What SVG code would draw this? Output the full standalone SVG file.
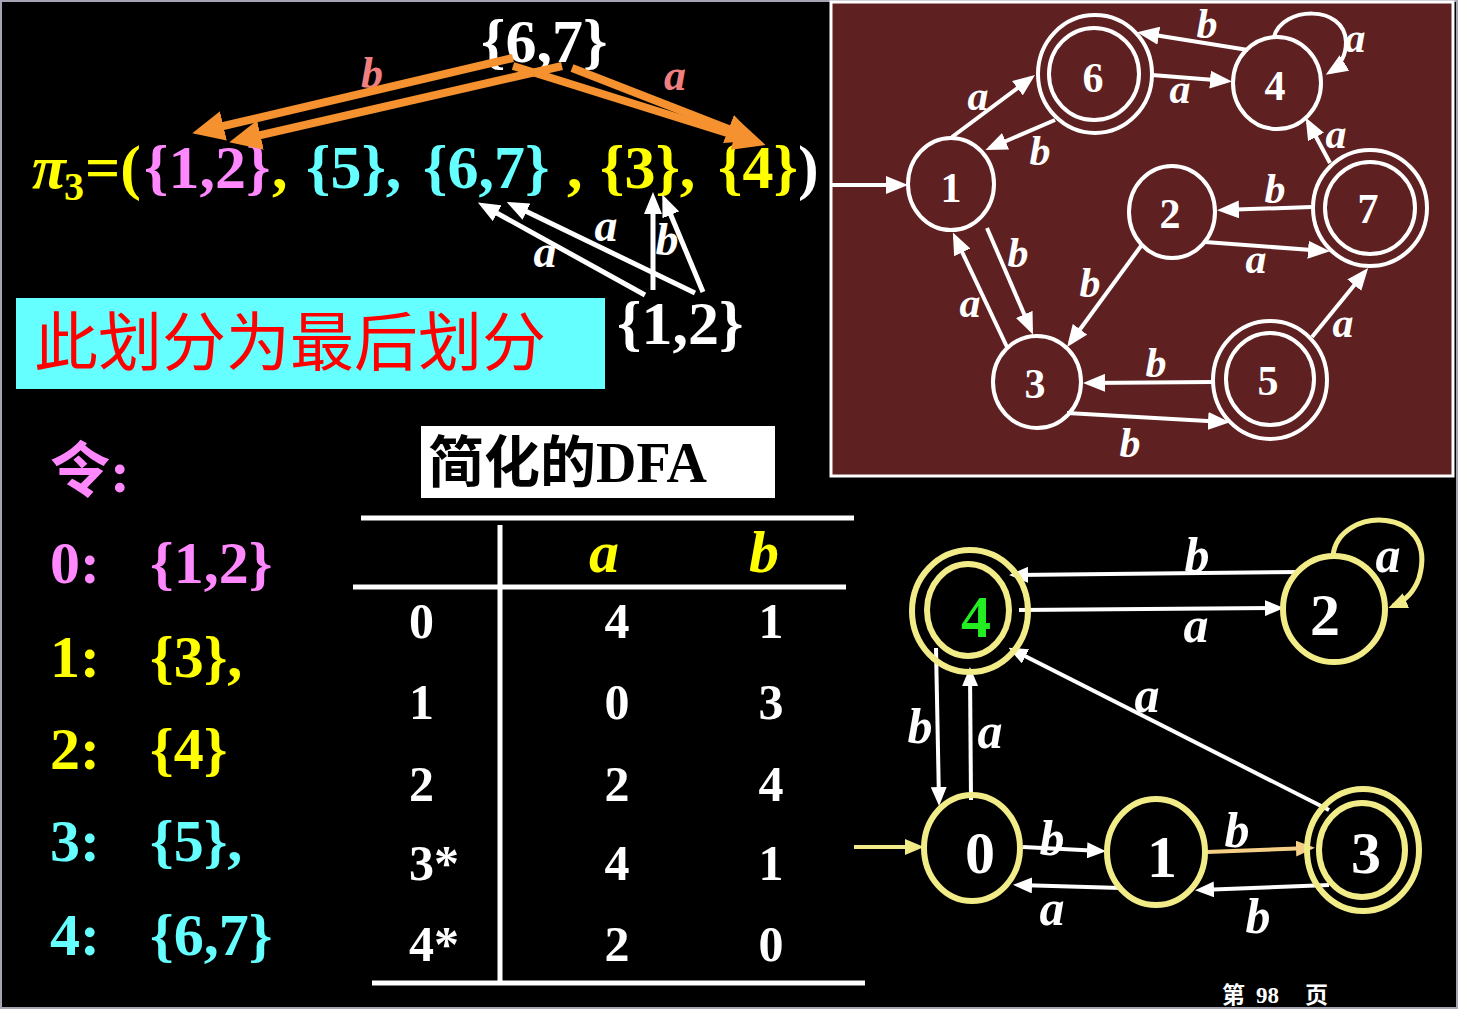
<svg xmlns="http://www.w3.org/2000/svg" width="1458" height="1009" viewBox="0 0 1458 1009">
<style>
.t{font-family:"Liberation Serif","Times New Roman","Noto Sans CJK SC",serif;font-weight:bold}
.cjk{font-family:"Noto Sans CJK SC",sans-serif}
.lb{font-family:"Liberation Serif","Times New Roman",serif;font-weight:bold;font-style:italic;fill:#fff;text-anchor:middle}
.nt{font-family:"Liberation Serif","Times New Roman",serif;font-weight:bold;fill:#fff;text-anchor:middle}
.n1{fill:none;stroke:#fff;stroke-width:4}
.n2{fill:none;stroke:#f2ec88;stroke-width:6}
.e{fill:none;stroke:#fff;stroke-width:4}
.ef{fill:none;stroke:#fff;stroke-width:5}
.eo{fill:none;stroke:#f5922f;stroke-width:8}
.tl{stroke:#fff;stroke-width:5}
</style>
<defs>
<marker id="aw" markerUnits="userSpaceOnUse" markerWidth="22" markerHeight="18" viewBox="0 0 22 18" refX="17" refY="9" orient="auto"><path d="M0,0 L22,9 L0,18 z" fill="#fff"/></marker>
<marker id="aw2" markerUnits="userSpaceOnUse" markerWidth="19" markerHeight="16" viewBox="0 0 19 16" refX="14" refY="8" orient="auto"><path d="M0,0 L19,8 L0,16 z" fill="#fff"/></marker>
<marker id="ay" markerUnits="userSpaceOnUse" markerWidth="19" markerHeight="16" viewBox="0 0 19 16" refX="14" refY="8" orient="auto"><path d="M0,0 L19,8 L0,16 z" fill="#f2ec88"/></marker>
<marker id="at" markerUnits="userSpaceOnUse" markerWidth="19" markerHeight="16" viewBox="0 0 19 16" refX="14" refY="8" orient="auto"><path d="M0,0 L19,8 L0,16 z" fill="#f5cf85"/></marker>
<marker id="ao" markerUnits="userSpaceOnUse" markerWidth="32" markerHeight="30" viewBox="0 0 32 30" refX="22" refY="15" orient="auto"><path d="M0,0 L32,15 L0,30 z" fill="#f5922f"/></marker>
<marker id="af" markerUnits="userSpaceOnUse" markerWidth="22" markerHeight="18" viewBox="0 0 22 18" refX="15" refY="9" orient="auto"><path d="M0,0 L22,9 L0,18 z" fill="#fff"/></marker>
</defs>
<rect x="0" y="0" width="1458" height="1009" fill="#000"/>
<rect x="1" y="1" width="1456" height="1007" fill="none" stroke="#a4a4b4" stroke-width="2"/>

<!-- formula -->
<g id="formula" class="t" font-size="62">
<text x="32" y="188" fill="#ff0" font-style="italic">π</text>
<text x="64" y="200" fill="#ff0" font-size="40">3</text>
<text x="85" y="188" fill="#ff0">=(</text>
<text x="144" y="188" fill="#ff88ff">{1,2}</text>
<text x="272" y="188" fill="#ff0">,</text>
<text x="306" y="188" fill="#66ffff">{5},</text>
<text x="423" y="188" fill="#66ffff">{6,7}</text>
<text x="567" y="188" fill="#ff0">,</text>
<text x="600" y="188" fill="#ff0">{3},</text>
<text x="718" y="188" fill="#ff0">{4}</text>
<text x="798" y="188" fill="#fff">)</text>
<text x="481" y="62" fill="#fff">{6,7}</text>
<text x="617" y="344" fill="#fff">{1,2}</text>
</g>
<g id="formula-labels">
<text class="lb" x="372" y="88" font-size="44" style="fill:#f08080">b</text>
<text class="lb" x="675" y="90" font-size="44" style="fill:#f08080">a</text>
<text class="lb" x="545" y="267" font-size="46">a</text>
<text class="lb" x="606" y="241" font-size="46">a</text>
<text class="lb" x="667" y="255" font-size="46">b</text>
</g>
<g id="formula-connectors">
<path class="eo" d="M513,58 L202,131" marker-end="url(#ao)"/>
<path class="eo" d="M562,66 L239,140" marker-end="url(#ao)"/>
<path class="eo" d="M513,66 L756,142" marker-end="url(#ao)"/>
<path class="eo" d="M572,68 L749,137" marker-end="url(#ao)"/>
<path class="ef" d="M645,295 L484,206" marker-end="url(#af)"/>
<path class="ef" d="M695,293 L513,205" marker-end="url(#af)"/>
<path class="ef" d="M653,290 L653,199" marker-end="url(#af)"/>
<path class="ef" d="M703,292 L665,201" marker-end="url(#af)"/>
</g>

<!-- final partition banner -->
<g id="banner">
<rect x="16" y="298" width="589" height="91" fill="#66ffff"/>
<text class="cjk" x="34" y="365" font-size="64" fill="#ff0000">此划分为最后划分</text>
</g>

<!-- mapping list -->
<g id="mapping" class="t" font-size="60">
<text x="50" y="492" fill="#ff88ff">令:</text>
<text x="50" y="583" fill="#ff88ff">0:</text><text x="150" y="583" fill="#ff88ff">{1,2}</text>
<text x="50" y="677" fill="#ff0">1:</text><text x="150" y="677" fill="#ff0">{3},</text>
<text x="50" y="769" fill="#ff0">2:</text><text x="150" y="769" fill="#ff0">{4}</text>
<text x="50" y="861" fill="#66ffff">3:</text><text x="150" y="861" fill="#66ffff">{5},</text>
<text x="50" y="955" fill="#66ffff">4:</text><text x="150" y="955" fill="#66ffff">{6,7}</text>
</g>

<!-- table -->
<g id="table">
<rect x="421" y="426" width="354" height="72" fill="#fff"/>
<text class="t" x="428" y="482" font-size="56" fill="#000">简化的DFA</text>
<line class="tl" x1="361" y1="518" x2="854" y2="518"/>
<line class="tl" x1="353" y1="587" x2="846" y2="587"/>
<line class="tl" x1="372" y1="983" x2="865" y2="983"/>
<line class="tl" x1="500" y1="525" x2="500" y2="982"/>
<text class="lb" x="604" y="572" font-size="60" style="fill:#ff0">a</text>
<text class="lb" x="764" y="572" font-size="60" style="fill:#ff0">b</text>
<g class="t" font-size="50" fill="#fff">
<text x="409" y="638">0</text><text x="617" y="638" text-anchor="middle">4</text><text x="771" y="638" text-anchor="middle">1</text>
<text x="409" y="719">1</text><text x="617" y="719" text-anchor="middle">0</text><text x="771" y="719" text-anchor="middle">3</text>
<text x="409" y="801">2</text><text x="617" y="801" text-anchor="middle">2</text><text x="771" y="801" text-anchor="middle">4</text>
<text x="409" y="880">3*</text><text x="617" y="880" text-anchor="middle">4</text><text x="771" y="880" text-anchor="middle">1</text>
<text x="409" y="961">4*</text><text x="617" y="961" text-anchor="middle">2</text><text x="771" y="961" text-anchor="middle">0</text>
</g>
</g>

<!-- original DFA panel -->
<rect x="831" y="2" width="622" height="474" fill="#5e2020" stroke="#fff" stroke-width="3"/>
<g id="dfa1-connectors">
<path class="e" d="M832,185 L903,185" marker-end="url(#aw)"/>
<path class="e" d="M952,137 L1031,78" marker-end="url(#aw)"/>
<path class="e" d="M1055,120 L990,148" marker-end="url(#aw)"/>
<path class="e" d="M1248,50 L1142,33" marker-end="url(#aw)"/>
<path class="e" d="M1152,75 L1227,81" marker-end="url(#aw)"/>
<path class="e" d="M1274,37 C1282,6 1345,4 1346,42 Q1346,62 1330,72" marker-end="url(#aw)"/>
<path class="e" d="M1330,163 L1308,122" marker-end="url(#aw)"/>
<path class="e" d="M1312,207 L1222,210" marker-end="url(#aw)"/>
<path class="e" d="M1205,242 L1325,251" marker-end="url(#aw)"/>
<path class="e" d="M987,228 L1031,330" marker-end="url(#aw)"/>
<path class="e" d="M1007,347 L955,237" marker-end="url(#aw)"/>
<path class="e" d="M1141,246 L1070,343" marker-end="url(#aw)"/>
<path class="e" d="M1212,382 L1088,383" marker-end="url(#aw)"/>
<path class="e" d="M1067,413 L1225,422" marker-end="url(#aw)"/>
<path class="e" d="M1312,337 L1365,272" marker-end="url(#aw)"/>
</g>
<g id="dfa1-labels" font-size="42">
<text class="lb" x="978" y="110">a</text>
<text class="lb" x="1040" y="165">b</text>
<text class="lb" x="1207" y="38">b</text>
<text class="lb" x="1180" y="103">a</text>
<text class="lb" x="1355" y="52">a</text>
<text class="lb" x="1336" y="148">a</text>
<text class="lb" x="1275" y="203">b</text>
<text class="lb" x="1256" y="273">a</text>
<text class="lb" x="1018" y="267">b</text>
<text class="lb" x="970" y="317">a</text>
<text class="lb" x="1090" y="297">b</text>
<text class="lb" x="1156" y="377">b</text>
<text class="lb" x="1130" y="457">b</text>
<text class="lb" x="1343" y="337">a</text>
</g>
<g id="s1"><ellipse class="n1" cx="951" cy="184" rx="43" ry="46"/><text class="nt" x="951" y="202" font-size="42">1</text></g>
<g id="s6"><ellipse class="n1" cx="1095" cy="74" rx="57" ry="59"/><ellipse class="n1" cx="1094" cy="74" rx="45" ry="46"/><text class="nt" x="1093" y="92" font-size="42">6</text></g>
<g id="s4"><ellipse class="n1" cx="1277" cy="83" rx="44" ry="46"/><text class="nt" x="1275" y="100" font-size="42">4</text></g>
<g id="s2"><ellipse class="n1" cx="1172" cy="212" rx="43" ry="46"/><text class="nt" x="1170" y="228" font-size="42">2</text></g>
<g id="s7"><ellipse class="n1" cx="1370" cy="208" rx="57" ry="58"/><ellipse class="n1" cx="1370" cy="208" rx="45" ry="46"/><text class="nt" x="1368" y="223" font-size="42">7</text></g>
<g id="s3"><ellipse class="n1" cx="1037" cy="382" rx="44" ry="46"/><text class="nt" x="1035" y="398" font-size="42">3</text></g>
<g id="s5"><ellipse class="n1" cx="1270" cy="380" rx="57" ry="59"/><ellipse class="n1" cx="1270" cy="379" rx="44" ry="46"/><text class="nt" x="1268" y="395" font-size="42">5</text></g>

<!-- minimized DFA -->
<g id="dfa2-connectors">
<path class="e" d="M1300,572 L1014,575" marker-end="url(#aw2)"/>
<path class="e" d="M1019,610 L1279,608" marker-end="url(#aw2)"/>
<path class="e" d="M1329,810 L1013,650" marker-end="url(#aw2)"/>
<path class="e" d="M936,648 L939,801" marker-end="url(#aw2)"/>
<path class="e" d="M971,800 L970,672" marker-end="url(#aw2)"/>
<path d="M854,847 L919,847" fill="none" stroke="#f2ec88" stroke-width="4" marker-end="url(#ay)"/>
<path class="e" d="M1023,847 L1101,851" marker-end="url(#aw2)"/>
<path d="M1207,852 L1310,848" fill="none" stroke="#f5cf85" stroke-width="4" marker-end="url(#at)"/>
<path class="e" d="M1121,888 L1018,885" marker-end="url(#aw2)"/>
<path class="e" d="M1329,885 L1200,890" marker-end="url(#aw2)"/>
<path d="M1333,556 C1338,505 1440,505 1419,578 Q1412,598 1393,606" fill="none" stroke="#f2ec88" stroke-width="5" marker-end="url(#ay)"/>
</g>
<g id="dfa2-labels" font-size="50">
<text class="lb" x="1197" y="572">b</text>
<text class="lb" x="1196" y="642">a</text>
<text class="lb" x="1388" y="572">a</text>
<text class="lb" x="1147" y="712">a</text>
<text class="lb" x="920" y="743">b</text>
<text class="lb" x="990" y="748">a</text>
<text class="lb" x="1052" y="855">b</text>
<text class="lb" x="1237" y="847">b</text>
<text class="lb" x="1052" y="925">a</text>
<text class="lb" x="1258" y="933">b</text>
</g>
<g id="q4"><ellipse class="n2" cx="970" cy="611" rx="58" ry="61"/><ellipse class="n2" cx="968" cy="610" rx="41" ry="46"/><text class="nt" x="976" y="637" font-size="60" style="fill:#22ee22">4</text></g>
<g id="q2"><ellipse class="n2" cx="1334" cy="609" rx="51" ry="53"/><text class="nt" x="1325" y="635" font-size="60">2</text></g>
<g id="q0"><ellipse class="n2" cx="972" cy="848" rx="48" ry="53"/><text class="nt" x="980" y="873" font-size="60">0</text></g>
<g id="q1"><ellipse class="n2" cx="1156" cy="852" rx="49" ry="53"/><text class="nt" x="1162" y="877" font-size="60">1</text></g>
<g id="q3"><ellipse class="n2" cx="1363" cy="850" rx="56" ry="61"/><ellipse class="n2" cx="1362" cy="850" rx="43" ry="47"/><text class="nt" x="1366" y="873" font-size="60">3</text></g>

<g id="page" class="t" font-size="23" fill="#fff">
<text x="1222" y="1003">第</text><text x="1256" y="1003">98</text><text x="1305" y="1003">页</text>
</g>
</svg>
